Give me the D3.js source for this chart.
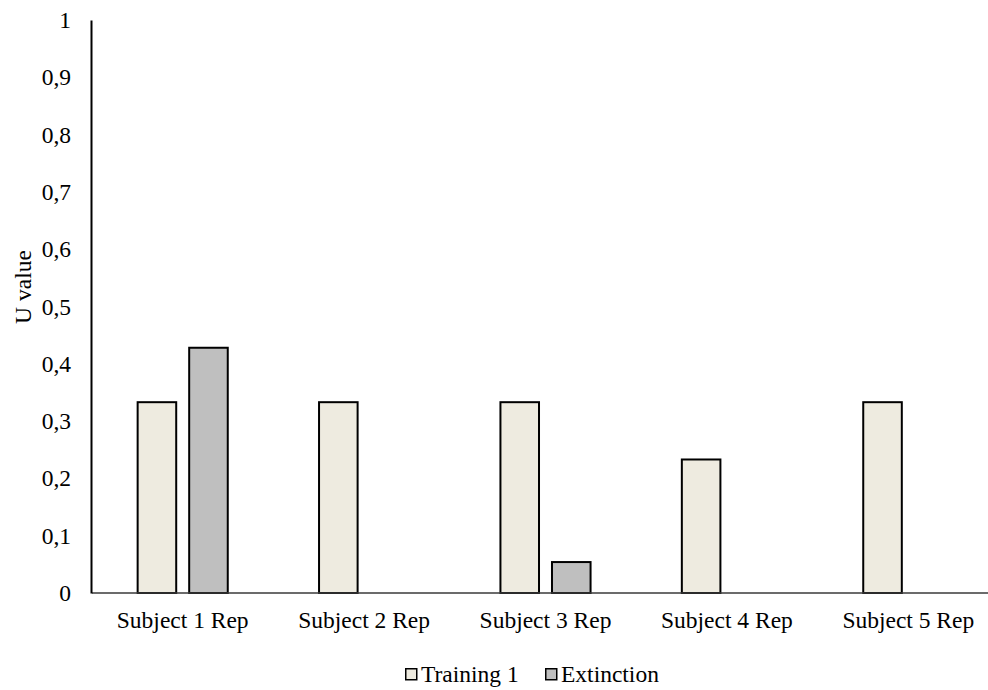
<!DOCTYPE html>
<html>
<head>
<meta charset="utf-8">
<script src="https://cdn.jsdelivr.net/npm/d3@7"></script>
<style>
  html, body { margin: 0; padding: 0; background: #fff; }
  svg { display: block; }
  text { font-family: "Liberation Serif", "Times New Roman", serif; fill: #000; }
</style>
</head>
<body>
<svg id="chart" width="988" height="690"></svg>
<script>
const categories = ["Subject 1 Rep", "Subject 2 Rep", "Subject 3 Rep", "Subject 4 Rep", "Subject 5 Rep"];
const seriesNames = ["Training 1", "Extinction"];
const training1 = [0.333, 0.333, 0.333, 0.233, 0.333];
const extinction = [0.428, 0, 0.054, 0, 0];
const yTicks = [0, 0.1, 0.2, 0.3, 0.4, 0.5, 0.6, 0.7, 0.8, 0.9, 1];
const seriesColors = ["#EEEBE0", "#BFBFBF"];

(function () {
const seriesValues = [training1, extinction];
const svg = d3.select("#chart");
const fontSize = 23.5;

const mLeft = 92, mBottom = 593, mTop = 20, bandStep = 181.4;
const x0 = d3.scaleBand().domain(categories).range([mLeft, mLeft + bandStep * categories.length]).padding(0);
const x1 = d3.scaleBand().domain(seriesNames).range([0, x0.bandwidth()]).paddingInner(0.213).paddingOuter(0.866);
const y = d3.scaleLinear().domain([0, 1]).range([mBottom, mTop]);

// bars
const groups = svg.append("g").selectAll("g").data(categories).join("g")
  .attr("transform", d => `translate(${x0(d)},0)`);
groups.selectAll("rect")
  .data((d, i) => seriesNames.map((s, k) => ({ s, v: seriesValues[k][i], k })).filter(o => o.v > 0))
  .join("rect")
  .attr("x", d => x1(d.s) + 1)
  .attr("width", x1.bandwidth() - 2)
  .attr("y", d => y(d.v))
  .attr("height", d => y(0) - y(d.v))
  .attr("fill", d => seriesColors[d.k])
  .attr("stroke", "#000")
  .attr("stroke-width", 2);

// x axis
const xAxis = d3.axisBottom(x0).tickSize(0).tickPadding(0);
const gx = svg.append("g").attr("transform", `translate(0,${mBottom})`).call(xAxis);
gx.select(".domain").attr("stroke", "#3a3a3a").attr("stroke-width", 1.5).attr("d", `M${mLeft},0H${988}`);
gx.selectAll(".tick text")
  .attr("y", 35).attr("dy", 0)
  .style("font-size", fontSize + "px")
  .style("font-family", '"Liberation Serif", "Times New Roman", serif')
  .attr("fill", "#000");

// y axis
const yAxis = d3.axisLeft(y).tickValues(yTicks).tickSize(0).tickPadding(20)
  .tickFormat(d => d3.format(".1~f")(d).replace(".", ","));
const gy = svg.append("g").attr("transform", `translate(${mLeft - 1},0)`).call(yAxis);
gy.select(".domain").attr("stroke", "#000").attr("stroke-width", 2);
gy.selectAll(".tick text")
  .style("font-size", fontSize + "px")
  .style("font-family", '"Liberation Serif", "Times New Roman", serif')
  .attr("fill", "#000");

// y label
svg.append("text")
  .attr("transform", `translate(31,287) rotate(-90)`)
  .attr("text-anchor", "middle")
  .style("font-size", fontSize + "px")
  .text("U value");

// legend
const legendItems = [{ name: seriesNames[0], x: 405 }, { name: seriesNames[1], x: 545 }];
const lg = svg.append("g");
legendItems.forEach((it, k) => {
  lg.append("rect").attr("x", it.x + 0.75).attr("y", 668.75).attr("width", 11).attr("height", 11)
    .attr("fill", seriesColors[k]).attr("stroke", "#000").attr("stroke-width", 1.5);
  lg.append("text").attr("x", it.x + 16).attr("y", 681.5)
    .style("font-size", fontSize + "px").text(it.name);
});
})();
</script>
</body>
</html>
